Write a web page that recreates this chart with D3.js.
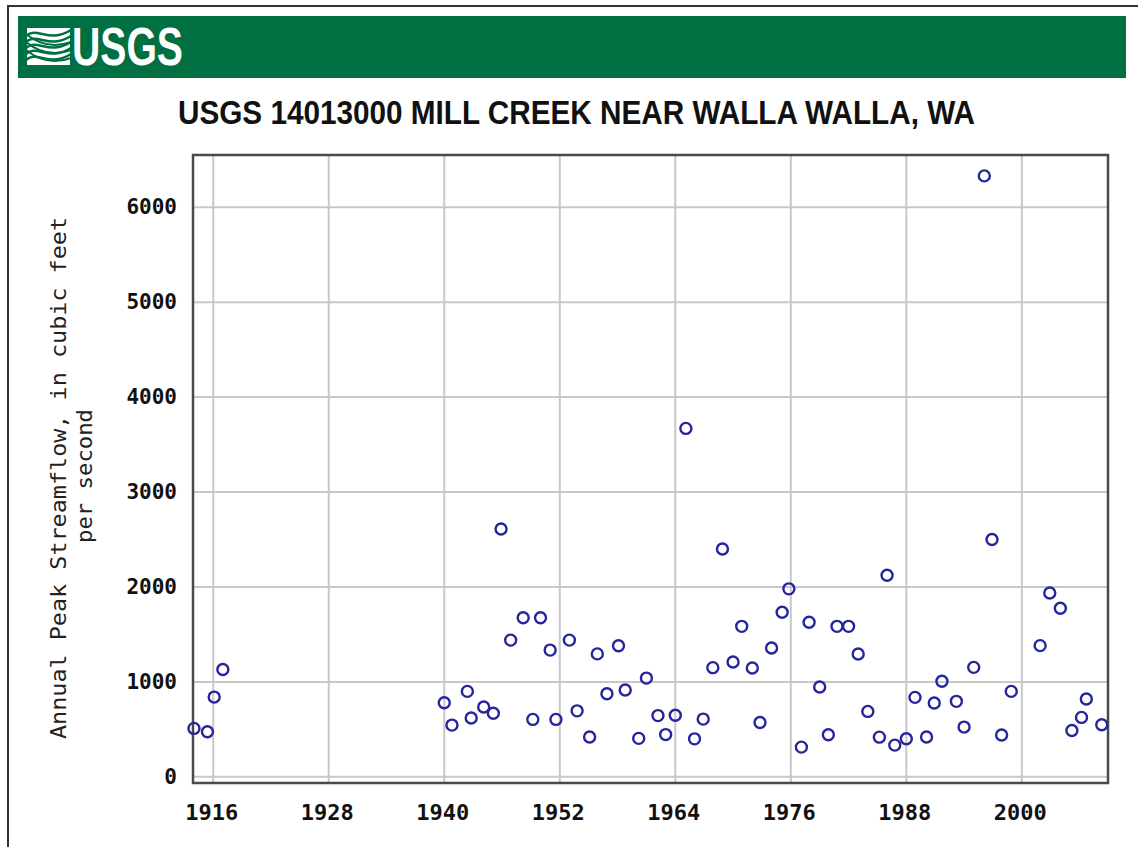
<!DOCTYPE html>
<html>
<head>
<meta charset="utf-8">
<script src="https://cdn.jsdelivr.net/npm/d3@7"></script>
<style>
  html, body { margin: 0; padding: 0; background: #fff; }
  svg { display: block; }
</style>
</head>
<body>
<svg id="chart" width="1138" height="847"></svg>
<script>
// Annual peak streamflow, USGS 14013000 Mill Creek near Walla Walla, WA
// Peak dates as decimal years, flows in cubic feet per second.
const peakDates = [
  1914.0, 1915.4, 1916.1, 1917.0,
  1940.0, 1940.8, 1942.4, 1942.8, 1944.1, 1945.1, 1945.9, 1946.9, 1948.2, 1949.2,
  1950.0, 1951.0, 1951.6, 1953.0, 1953.8, 1955.1, 1955.9, 1956.9, 1958.1, 1958.8,
  1960.2, 1961.0, 1962.2, 1963.0, 1964.0, 1965.1, 1966.0, 1966.9, 1967.9, 1968.9,
  1970.0, 1970.9, 1972.0, 1972.8, 1974.0, 1975.1, 1975.8, 1977.1, 1977.9, 1979.0,
  1979.9, 1980.8, 1982.0, 1983.0, 1984.0, 1985.2, 1986.0, 1986.8, 1988.0, 1988.9,
  1990.1, 1990.9, 1991.7, 1993.2, 1994.0, 1995.0, 1996.1, 1996.9, 1997.9, 1998.9,
  2001.9, 2002.9, 2004.0, 2005.2, 2006.2, 2006.7, 2008.3
];
const peakFlows = [
  510, 475, 840, 1130,
  780, 545, 900, 620, 735, 670, 2610, 1440, 1675, 605,
  1675, 1335, 605, 1440, 695, 420, 1295, 875, 1380, 915,
  405, 1040, 645, 445, 648, 3670, 400, 608, 1150, 2400,
  1210, 1585, 1146, 573, 1357, 1733, 1980, 313, 1628, 946,
  443, 1585, 1585, 1294, 689, 418, 2124, 334, 401, 837,
  419, 777, 1006, 795, 524, 1153, 6330, 2500, 440, 900,
  1382, 1937, 1776, 488, 626, 820, 549
];
const yearTicks = [1916, 1928, 1940, 1952, 1964, 1976, 1988, 2000];
const flowTicks = [0, 1000, 2000, 3000, 4000, 5000, 6000];
const xExtent = [1913.9, 2008.95];
const yExtent = [-65, 6550];

const titleText = "USGS 14013000 MILL CREEK NEAR WALLA WALLA, WA";
const yLabel1 = "Annual Peak Streamflow, in cubic feet";
const yLabel2 = "per second";

const svg = d3.select("#chart");
const plot = { left: 193, right: 1108, top: 155, bottom: 783 };

const x = d3.scaleLinear().domain(xExtent).range([plot.left, plot.right]);
const y = d3.scaleLinear().domain(yExtent).range([plot.bottom, plot.top]);

// outer frame of the page
svg.append("rect")
  .attr("x", 8).attr("y", 6).attr("width", 1140).attr("height", 860)
  .attr("fill", "#fff").attr("stroke", "#333").attr("stroke-width", 2);

// green banner
svg.append("rect")
  .attr("x", 18).attr("y", 16).attr("width", 1108).attr("height", 62)
  .attr("fill", "#006f41");

// logo mark: white block crossed by wave lines
const mark = svg.append("g").attr("transform", "translate(27,28)");
mark.append("path")
  .attr("d", "M0,0 L43,0 L43,37 L0,37 Z")
  .attr("fill", "#fff");
const waves = [4, 10, 16, 22, 28];
mark.selectAll("path.wave").data(waves).join("path")
  .attr("class", "wave")
  .attr("d", d => `M-1,${d + 4} C10,${d - 6} 22,${d + 12} 44,${d - 2}`)
  .attr("fill", "none").attr("stroke", "#006f41").attr("stroke-width", 2.4);
mark.selectAll("path.wave2").data([12, 20, 28]).join("path")
  .attr("class", "wave2")
  .attr("d", d => `M-1,${d - 6} C14,${d + 6} 28,${d + 8} 44,${d + 2}`)
  .attr("fill", "none").attr("stroke", "#006f41").attr("stroke-width", 2);

svg.append("text")
  .attr("x", 72).attr("y", 65)
  .attr("textLength", 111).attr("lengthAdjust", "spacingAndGlyphs")
  .attr("font-family", "'Liberation Sans Narrow', 'Liberation Sans', sans-serif")
  .attr("font-weight", "bold").attr("font-size", 53)
  .attr("fill", "#fff")
  .text("USGS");

// title
svg.append("text")
  .attr("x", 178).attr("y", 124)
  .attr("textLength", 797).attr("lengthAdjust", "spacingAndGlyphs")
  .attr("font-family", "'Liberation Sans Narrow', 'Liberation Sans', sans-serif")
  .attr("font-weight", "bold").attr("font-size", 33)
  .attr("fill", "#111")
  .text(titleText);

// grid
const grid = svg.append("g");
grid.selectAll("line.gx").data(yearTicks).join("line")
  .attr("class", "gx")
  .attr("x1", d => x(d)).attr("x2", d => x(d))
  .attr("y1", plot.top).attr("y2", plot.bottom)
  .attr("stroke", "#c8c8c8").attr("stroke-width", 2);
grid.selectAll("line.gy").data(flowTicks).join("line")
  .attr("class", "gy")
  .attr("x1", plot.left).attr("x2", plot.right)
  .attr("y1", d => y(d)).attr("y2", d => y(d))
  .attr("stroke", "#c8c8c8").attr("stroke-width", 2);

// plot frame
svg.append("rect")
  .attr("x", plot.left).attr("y", plot.top)
  .attr("width", plot.right - plot.left).attr("height", plot.bottom - plot.top)
  .attr("fill", "none").attr("stroke", "#4a4a4a").attr("stroke-width", 2.5);

// axes (labels only; ticks are the grid)
const tickFont = "'DejaVu Sans Mono', 'Liberation Mono', monospace";
const yAxis = d3.axisLeft(y).tickValues(flowTicks).tickSize(0).tickPadding(0)
  .tickFormat(d3.format("d"));
svg.append("g")
  .attr("transform", "translate(177,0)")
  .call(yAxis)
  .call(g => g.select(".domain").remove())
  .selectAll("text")
  .attr("font-family", tickFont).attr("font-weight", "bold")
  .attr("font-size", 21).attr("fill", "#111");

const xAxis = d3.axisBottom(x).tickValues(yearTicks).tickSize(0).tickPadding(0)
  .tickFormat(d3.format("d"));
svg.append("g")
  .attr("transform", "translate(-2,804)")
  .call(xAxis)
  .call(g => g.select(".domain").remove())
  .selectAll("text")
  .attr("font-family", tickFont).attr("font-weight", "bold")
  .attr("font-size", 22).attr("fill", "#111");

// y-axis title, two lines
const yTitle = svg.append("g").attr("transform", "rotate(-90)");
yTitle.append("text")
  .attr("x", -478).attr("y", 66)
  .attr("text-anchor", "middle")
  .attr("textLength", 522).attr("lengthAdjust", "spacingAndGlyphs")
  .attr("font-family", tickFont).attr("font-size", 22).attr("fill", "#222")
  .text(yLabel1);
yTitle.append("text")
  .attr("x", -476).attr("y", 92)
  .attr("text-anchor", "middle")
  .attr("textLength", 134).attr("lengthAdjust", "spacingAndGlyphs")
  .attr("font-family", tickFont).attr("font-size", 22).attr("fill", "#222")
  .text(yLabel2);

// annual peaks as open circles
svg.append("g").selectAll("circle").data(d3.zip(peakDates, peakFlows)).join("circle")
  .attr("cx", d => x(d[0]))
  .attr("cy", d => y(d[1]))
  .attr("r", 5.5)
  .attr("fill", "none")
  .attr("stroke", "#25259c")
  .attr("stroke-width", 2.4);
</script>
</body>
</html>
